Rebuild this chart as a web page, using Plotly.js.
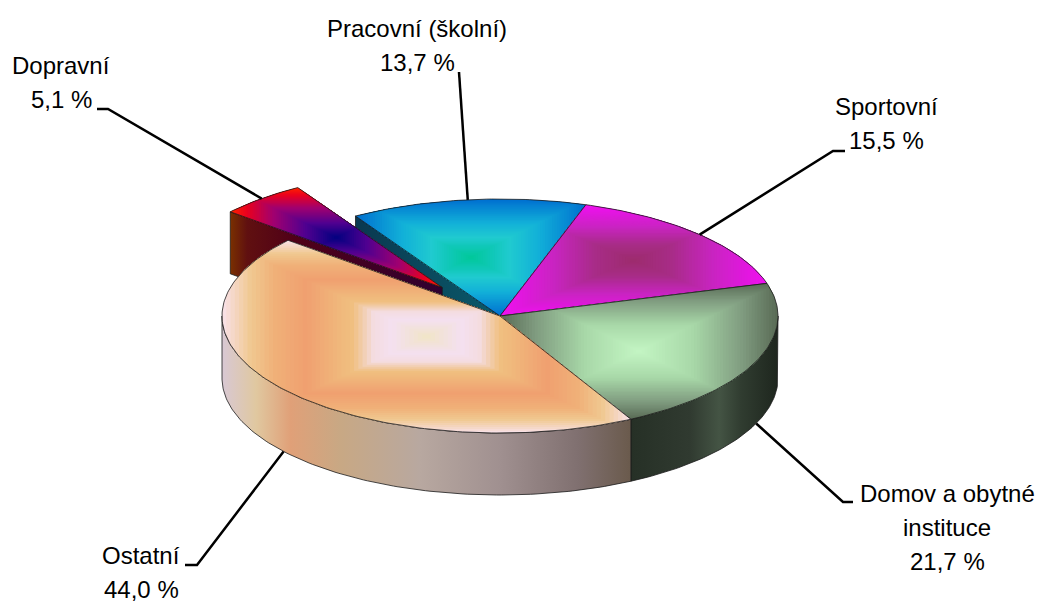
<!DOCTYPE html>
<html><head><meta charset="utf-8">
<script src="https://cdn.plot.ly/plotly-3.0.1.min.js"></script>
<style>html,body{margin:0;padding:0;background:#fff}#chart{width:1039px;height:603px}</style>
</head><body><div id="chart"></div>
<script>
// ---- data ----
const labels = ['Pracovní (školní)', 'Sportovní', 'Domov a obytné instituce', 'Ostatní', 'Dopravní'];
const labelLines = [['Pracovní (školní)'], ['Sportovní'], ['Domov a obytné', 'instituce'], ['Ostatní'], ['Dopravní']];
const values = [13.7, 15.5, 21.7, 44.0, 5.1];

// ---- geometry / style ----
const W = 1039, H = 603;
const geo = {cx: 500, cy: 316, rx: 278, ry: 117, depth: 62, start: 121.32};
const pull = [0, 0, 0, 0, 0.32];
// "from centre" rectangular gradients of the top faces (0 = centre, 1 = edge of bounding box)
const topGrad = [
  [[0,'#00c898'],[0.2,'#10c8b8'],[0.35,'#20cad0'],[0.6,'#12b0d8'],[1,'#0070d0']],
  [[0,'#9c2c6c'],[0.3,'#a82c88'],[0.6,'#c824c0'],[1,'#f010f0']],
  [[0,'#c4f6c4'],[0.4,'#a8d8a8'],[0.75,'#809c80'],[1,'#5a6c56']],
  [[0,'#f0e6c4'],[0.08,'#f2e2d8'],[0.18,'#f4e0f0'],[0.27,'#f4dce0'],[0.37,'#f0c080'],[0.6,'#f0a070'],[0.75,'#f0b078'],[0.87,'#f0c890'],[1,'#f8e0e4']],
  [[0,'#000080'],[0.3,'#500090'],[0.6,'#a00070'],[0.85,'#e80020'],[1,'#ff2000']]
];
const wallGrad = [
  [[0,'#0a3850'],[1,'#0a5a6a']],
  [[0,'#600060'],[1,'#a000a0']],
  [[0,'#263026'],[0.4,'#303a30'],[0.6,'#445444'],[0.75,'#303c30'],[1,'#1e261e']],
  [[0,'#d8c8d4'],[0.083,'#e0c8a0'],[0.168,'#e0a078'],[0.29,'#c8a884'],[0.484,'#b8a8a0'],[0.68,'#a09090'],[0.87,'#807070'],[1,'#6a5a4c']],
  [[0,'#7a3000'],[0.08,'#601010'],[0.3,'#500018'],[1,'#300030']]
];
const labelCfg = [
  {x: 417, y: 37, path: [[459, 72]]},
  {x: 886, y: 115, path: [[833, 151], [845, 151]]},
  {x: 947, y: 502, path: [[843, 502], [853, 502]]},
  {x: 141, y: 564, path: [[197, 565], [185, 565]]},
  {x: 61, y: 74, path: [[108, 109], [97, 109]]}
];
const FONT = {family: '"Liberation Sans", Arial, sans-serif', size: 24, color: '#000'};
const LINE_H = 34;
const LAYERS = 48;

// ---- helpers ----
const total = values.reduce((a, b) => a + b, 0);
const rad = d => d * Math.PI / 180;
function hex(c) { return [1, 3, 5].map(k => parseInt(c.substr(k, 2), 16)); }
function colorAt(scale, t) {
  for (let k = 1; k < scale.length; k++) {
    if (t <= scale[k][0]) {
      const f = (t - scale[k - 1][0]) / (scale[k][0] - scale[k - 1][0] || 1);
      const a = hex(scale[k - 1][1]), b = hex(scale[k][1]);
      return 'rgb(' + a.map((v, j) => Math.round(v + (b[j] - v) * f)).join(',') + ')';
    }
  }
  return scale[scale.length - 1][1];
}
function clip(poly, edge) { // Sutherland-Hodgman against one half-plane
  const out = [];
  for (let k = 0; k < poly.length; k++) {
    const cur = poly[k], prv = poly[(k + poly.length - 1) % poly.length];
    const ci = edge.inside(cur), pi = edge.inside(prv);
    if (ci) { if (!pi) out.push(edge.cut(prv, cur)); out.push(cur); }
    else if (pi) out.push(edge.cut(prv, cur));
  }
  return out;
}
function clipRect(poly, x0, x1, y0, y1) {
  const cx = (v) => ({inside: p => v.s * (p[0] - v.x) >= 0, cut: (a, b) => { const f = (v.x - a[0]) / (b[0] - a[0]); return [v.x, a[1] + f * (b[1] - a[1])]; }});
  const cy = (v) => ({inside: p => v.s * (p[1] - v.y) >= 0, cut: (a, b) => { const f = (v.y - a[1]) / (b[1] - a[1]); return [a[0] + f * (b[0] - a[0]), v.y]; }});
  let p = poly;
  [cx({x: x0, s: 1}), cx({x: x1, s: -1}), cy({y: y0, s: 1}), cy({y: y1, s: -1})].forEach(e => { if (p.length) p = clip(p, e); });
  return p;
}

let cum = 0;
const slices = values.map((v, i) => {
  const a0 = geo.start - cum / total * 360; cum += v;
  const a1 = geo.start - cum / total * 360;
  const mid = (a0 + a1) / 2;
  const p = pull[i];
  return {i, v, a0, a1, mid, pulled: p > 0,
    ox: p * geo.rx * Math.cos(rad(mid)), oy: -p * geo.ry * Math.sin(rad(mid))};
});
function P(s, a, dz) { return [geo.cx + s.ox + geo.rx * Math.cos(rad(a)), geo.cy + s.oy - geo.ry * Math.sin(rad(a)) + (dz || 0)]; }
function C(s, dz) { return [geo.cx + s.ox, geo.cy + s.oy + (dz || 0)]; }
function arc(s, from, to, dz) {
  const n = Math.max(2, Math.ceil(Math.abs(to - from)));
  const pts = [];
  for (let k = 0; k <= n; k++) pts.push(P(s, from + (to - from) * k / n, dz));
  return pts;
}
function closed(pts) { return {x: pts.map(p => p[0]).concat([pts[0][0]]), y: pts.map(p => p[1]).concat([pts[0][1]])}; }
function gradPoly(pts, grad) {
  const c = closed(pts);
  return {type: 'scatter', mode: 'lines', x: c.x, y: c.y, fill: 'toself',
    fillcolor: grad[grad.length - 1][1],
    fillgradient: {type: 'horizontal', colorscale: grad},
    line: {color: '#1a1a1a', width: 0.8}, hoverinfo: 'skip', showlegend: false};
}
function solidPoly(pts, color) {
  const c = closed(pts);
  return {type: 'scatter', mode: 'lines', x: c.x, y: c.y, fill: 'toself', fillcolor: color,
    line: {width: 0, color: color}, hoverinfo: 'skip', showlegend: false};
}
function outline(pts) {
  const c = closed(pts);
  return {type: 'scatter', mode: 'lines', x: c.x, y: c.y, line: {color: '#1a1a1a', width: 0.8}, hoverinfo: 'skip', showlegend: false};
}
function faceTraces(s) {
  const out = [];
  const n = slices.length;
  const prev = slices[(s.i - 1 + n) % n], next = slices[(s.i + 1) % n];
  const mk = a => [C(s, 0), P(s, a, 0), P(s, a, geo.depth), C(s, geo.depth)];
  if (Math.cos(rad(s.a0)) < 0 && (s.pulled || prev.pulled)) out.push(gradPoly(mk(s.a0), wallGrad[s.i]));
  if (Math.cos(rad(s.a1)) > 0 && (s.pulled || next.pulled)) out.push(gradPoly(mk(s.a1), wallGrad[s.i]));
  return out;
}
function wallTraces(s) {
  const out = [];
  for (let k = -2; k <= 2; k++) {
    const lo = Math.max(s.a1, -180 + 360 * k), hi = Math.min(s.a0, 360 * k);
    if (hi > lo) {
      const t = arc(s, lo, hi, 0), b = arc(s, lo, hi, geo.depth).reverse();
      out.push(gradPoly(t.concat(b), wallGrad[s.i]));
    }
  }
  return out;
}
function topTraces(s) {
  const shape = [C(s, 0)].concat(arc(s, s.a0, s.a1, 0));
  const xs = shape.map(p => p[0]), ys = shape.map(p => p[1]);
  const bx0 = Math.min(...xs), bx1 = Math.max(...xs), by0 = Math.min(...ys), by1 = Math.max(...ys);
  const mx = (bx0 + bx1) / 2, my = (by0 + by1) / 2, hw = (bx1 - bx0) / 2, hh = (by1 - by0) / 2;
  const out = [];
  for (let k = 0; k < LAYERS; k++) {
    const t = 1 - k / LAYERS;
    const part = k === 0 ? shape : clipRect(shape, mx - t * hw, mx + t * hw, my - t * hh, my + t * hh);
    if (part.length > 2) out.push(solidPoly(part, colorAt(topGrad[s.i], t)));
  }
  out.push(outline(shape));
  return out;
}

const traces = [];
slices.filter(s => !s.pulled).forEach(s => traces.push(...faceTraces(s)));
slices.filter(s => s.pulled).forEach(s => { traces.push(...faceTraces(s)); traces.push(...wallTraces(s)); traces.push(...topTraces(s)); });
slices.filter(s => !s.pulled).forEach(s => traces.push(...wallTraces(s)));
slices.filter(s => !s.pulled).forEach(s => traces.push(...topTraces(s)));

const shapes = [], annotations = [];
slices.forEach(s => {
  const st = Math.sin(rad(s.mid)) < 0 ? P(s, s.mid, geo.depth) : P(s, s.mid, 0);
  const cfg = labelCfg[s.i];
  let d = 'M ' + st[0] + ',' + st[1];
  cfg.path.forEach(p => { d += ' L ' + p[0] + ',' + p[1]; });
  shapes.push({type: 'path', path: d, xref: 'x', yref: 'y', line: {color: '#000', width: 2.5}});
  const lines = labelLines[s.i].concat([s.v.toFixed(1).replace('.', ',') + ' %']);
  lines.forEach((t, j) => annotations.push({
    x: cfg.x, y: cfg.y + j * LINE_H - 8.5, xref: 'x', yref: 'y', text: t, showarrow: false,
    xanchor: 'center', yanchor: 'middle', font: FONT
  }));
});

Plotly.newPlot('chart', traces, {
  width: W, height: H, margin: {l: 0, r: 0, t: 0, b: 0},
  paper_bgcolor: '#fff', plot_bgcolor: '#fff', showlegend: false,
  xaxis: {range: [0, W], visible: false, fixedrange: true},
  yaxis: {range: [H, 0], visible: false, fixedrange: true},
  shapes: shapes, annotations: annotations
}, {staticPlot: true, displayModeBar: false});
</script></body></html>
